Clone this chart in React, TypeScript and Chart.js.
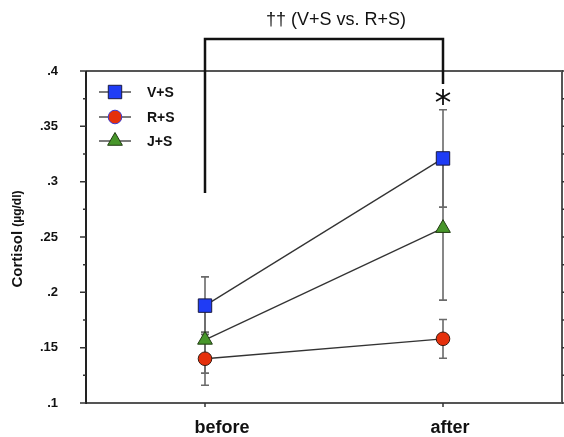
import { useEffect, useRef } from 'react';
import { Chart, registerables } from 'chart.js';

Chart.register(...registerables);

const categories = ['before', 'after'];
const seriesNames = ['V+S', 'R+S', 'J+S'];
const vsValues = [0.188, 0.321];
const vsErrors = [0.026, 0.044];
const rsValues = [0.14, 0.158];
const rsErrors = [0.024, 0.0175];
const jsValues = [0.157, 0.258];
const jsErrors = [0.03, 0.065];
const yTickValues = [0.1, 0.15, 0.2, 0.25, 0.3, 0.35, 0.4];
const yTickLabels = ['.1', '.15', '.2', '.25', '.3', '.35', '.4'];
const yMinorValues = [0.125, 0.175, 0.225, 0.275, 0.325, 0.375];
const annotationText = '†† (V+S vs. R+S)';
const yTitle = 'Cortisol';
const yUnit = '(µg/dl)';

const FONT = "'Liberation Sans', Arial, Helvetica, sans-serif";
const errorsByDataset = [vsErrors, rsErrors, jsErrors];
const xLabelShift = [17, 7];

const styles = [
  { pointStyle: 'rect', radius: 9.5, fill: '#1f3cf5', border: '#1a1a40' },
  { pointStyle: 'circle', radius: 6.8, fill: '#e5300c', border: '#3a1a10' },
  { pointStyle: 'triangle', radius: 8.5, fill: '#47962a', border: '#1f3a10' },
];

function drawMarker(ctx: CanvasRenderingContext2D, style: string, r: number, x: number, y: number) {
  ctx.beginPath();
  if (style === 'rect') {
    const s = Math.SQRT1_2 * r;
    ctx.rect(x - s, y - s, 2 * s, 2 * s);
  } else if (style === 'circle') {
    ctx.arc(x, y, r, 0, Math.PI * 2);
  } else {
    const a = -Math.PI / 2;
    for (let k = 0; k < 3; k++) {
      const ang = a + (k * 2 * Math.PI) / 3;
      const px = x + r * Math.cos(ang);
      const py = y + r * Math.sin(ang);
      if (k === 0) ctx.moveTo(px, py);
      else ctx.lineTo(px, py);
    }
  }
  ctx.closePath();
  ctx.fill();
  ctx.stroke();
}

const decorPlugin = {
  id: 'decor',
  beforeDatasetsDraw(chart: any) {
    const ctx = chart.ctx;
    const y = chart.scales.y;
    ctx.save();
    ctx.strokeStyle = '#6a6a6a';
    ctx.lineWidth = 1.6;
    chart.data.datasets.forEach((ds: any, di: number) => {
      const meta = chart.getDatasetMeta(di);
      ds.data.forEach((v: number, i: number) => {
        const e = errorsByDataset[di][i];
        const px = meta.data[i].x;
        const top = y.getPixelForValue(v + e);
        const bot = y.getPixelForValue(v - e);
        ctx.beginPath();
        ctx.moveTo(px, top);
        ctx.lineTo(px, bot);
        ctx.moveTo(px - 4, top);
        ctx.lineTo(px + 4, top);
        ctx.moveTo(px - 4, bot);
        ctx.lineTo(px + 4, bot);
        ctx.stroke();
      });
    });
    ctx.restore();
  },
  afterDraw(chart: any) {
    const ctx = chart.ctx;
    const area = chart.chartArea;
    const y = chart.scales.y;
    const x = chart.scales.x;
    ctx.save();
    // frame
    ctx.strokeStyle = '#555';
    ctx.lineWidth = 2;
    ctx.beginPath();
    ctx.moveTo(area.left, area.top);
    ctx.lineTo(area.right, area.top);
    ctx.lineTo(area.right, area.bottom);
    ctx.lineTo(area.left, area.bottom);
    ctx.stroke();
    ctx.strokeStyle = '#222';
    ctx.beginPath();
    ctx.moveTo(area.left, area.top);
    ctx.lineTo(area.left, area.bottom + 1);
    ctx.stroke();
    // y ticks
    ctx.lineWidth = 1.5;
    ctx.strokeStyle = '#333';
    yTickValues.forEach((v) => {
      const py = y.getPixelForValue(v);
      ctx.beginPath();
      ctx.moveTo(area.left - 6, py);
      ctx.lineTo(area.left, py);
      ctx.moveTo(area.right, py);
      ctx.lineTo(area.right + 6, py);
      ctx.stroke();
    });
    yMinorValues.forEach((v) => {
      const py = y.getPixelForValue(v);
      ctx.beginPath();
      ctx.moveTo(area.left - 3, py);
      ctx.lineTo(area.left, py);
      ctx.moveTo(area.right, py);
      ctx.lineTo(area.right + 3, py);
      ctx.stroke();
    });
    // x ticks and labels
    categories.forEach((label, i) => {
      const px = x.getPixelForValue(i);
      ctx.strokeStyle = '#333';
      ctx.lineWidth = 1.5;
      ctx.beginPath();
      ctx.moveTo(px, area.bottom);
      ctx.lineTo(px, area.bottom + 4);
      ctx.stroke();
      ctx.fillStyle = '#111';
      ctx.font = `bold 18px ${FONT}`;
      ctx.textAlign = 'center';
      ctx.textBaseline = 'alphabetic';
      ctx.fillText(label, px + xLabelShift[i], 433);
    });
    // y title
    ctx.fillStyle = '#111';
    ctx.translate(18, 239);
    ctx.rotate(-Math.PI / 2);
    ctx.textBaseline = 'middle';
    ctx.font = `bold 15px ${FONT}`;
    const w1 = ctx.measureText(yTitle + ' ').width;
    ctx.font = `bold 12px ${FONT}`;
    const w2 = ctx.measureText(yUnit).width;
    const start = -(w1 + w2) / 2;
    ctx.font = `bold 15px ${FONT}`;
    ctx.textAlign = 'left';
    ctx.fillText(yTitle, start, 0);
    ctx.font = `bold 12px ${FONT}`;
    ctx.fillText(yUnit, start + w1, 0);
    ctx.setTransform(1, 0, 0, 1, 0, 0);
    // legend
    const lx = 115;
    const ly = [92, 117, 141];
    seriesNames.forEach((name, i) => {
      const st = styles[i];
      ctx.strokeStyle = '#333';
      ctx.lineWidth = 1.3;
      ctx.beginPath();
      ctx.moveTo(lx - 16, ly[i]);
      ctx.lineTo(lx + 16, ly[i]);
      ctx.stroke();
      ctx.fillStyle = st.fill;
      ctx.strokeStyle = i === 1 ? '#3a3ad0' : st.border;
      ctx.lineWidth = 1;
      drawMarker(ctx, st.pointStyle, st.radius, lx, ly[i]);
      ctx.fillStyle = '#111';
      ctx.font = `bold 14px ${FONT}`;
      ctx.textAlign = 'left';
      ctx.textBaseline = 'middle';
      ctx.fillText(name, 147, ly[i] + 1);
    });
    // significance bracket
    const x0 = x.getPixelForValue(0);
    const x1 = x.getPixelForValue(1);
    const by = 39;
    ctx.strokeStyle = '#111';
    ctx.lineWidth = 2.5;
    ctx.beginPath();
    ctx.moveTo(x0, 193);
    ctx.lineTo(x0, by);
    ctx.lineTo(x1, by);
    ctx.lineTo(x1, 84);
    ctx.stroke();
    ctx.fillStyle = '#111';
    ctx.font = `18px ${FONT}`;
    ctx.textAlign = 'center';
    ctx.textBaseline = 'middle';
    ctx.fillText(annotationText, 336, 20);
    // asterisk
    const ax = x1;
    const ay = 97;
    const r = 8;
    ctx.lineWidth = 1.8;
    ctx.beginPath();
    for (let k = 0; k < 3; k++) {
      const a = Math.PI / 2 + (k * Math.PI) / 3;
      ctx.moveTo(ax + r * Math.cos(a), ay + r * Math.sin(a));
      ctx.lineTo(ax - r * Math.cos(a), ay - r * Math.sin(a));
    }
    ctx.stroke();
    ctx.restore();
  },
};

export default function App() {
  const ref = useRef<HTMLCanvasElement>(null);
  useEffect(() => {
    document.body.style.margin = '0';
    const values = [vsValues, rsValues, jsValues];
    const chart = new Chart(ref.current as HTMLCanvasElement, {
      type: 'line',
      data: {
        labels: categories,
        datasets: seriesNames.map((name, i) => ({
          label: name,
          data: values[i],
          borderColor: '#333',
          borderWidth: 1.3,
          pointStyle: styles[i].pointStyle as any,
          pointRadius: styles[i].radius,
          pointHoverRadius: styles[i].radius,
          pointBackgroundColor: styles[i].fill,
          pointBorderColor: styles[i].border,
          pointBorderWidth: 1,
          tension: 0,
          fill: false,
          clip: false,
        })),
      },
      options: {
        responsive: false,
        animation: false,
        events: [],
        layout: { autoPadding: false, padding: { top: 71, right: 2, left: 0, bottom: 0 } },
        plugins: { legend: { display: false }, tooltip: { enabled: false } },
        scales: {
          x: {
            type: 'category',
            offset: true,
            grid: { display: false },
            border: { display: false },
            ticks: { display: false },
            afterFit: (s: any) => {
              s.height = 34;
              s.paddingLeft = 0;
              s.paddingRight = 0;
            },
          },
          y: {
            min: 0.1,
            max: 0.4,
            grid: { display: false },
            border: { display: false },
            afterBuildTicks: (s: any) => {
              s.ticks = yTickValues.map((v) => ({ value: v }));
            },
            ticks: {
              color: '#111',
              font: { family: FONT, size: 13, weight: 'bold' },
              padding: 20,
              autoSkip: false,
              callback: (v: any) => {
                const idx = yTickValues.findIndex((t) => Math.abs(t - Number(v)) < 1e-6);
                return idx >= 0 ? yTickLabels[idx] : '';
              },
            },
            afterFit: (s: any) => {
              s.width = 86;
              s.paddingTop = 0;
              s.paddingBottom = 0;
            },
          },
        },
      },
      plugins: [decorPlugin],
    } as any);
    return () => chart.destroy();
  }, []);
  return (
    <div style={{ position: 'fixed', left: 0, top: 0, width: 564, height: 437, background: '#fff' }}>
      <canvas ref={ref} width={564} height={437} style={{ display: 'block' }} />
    </div>
  );
}
